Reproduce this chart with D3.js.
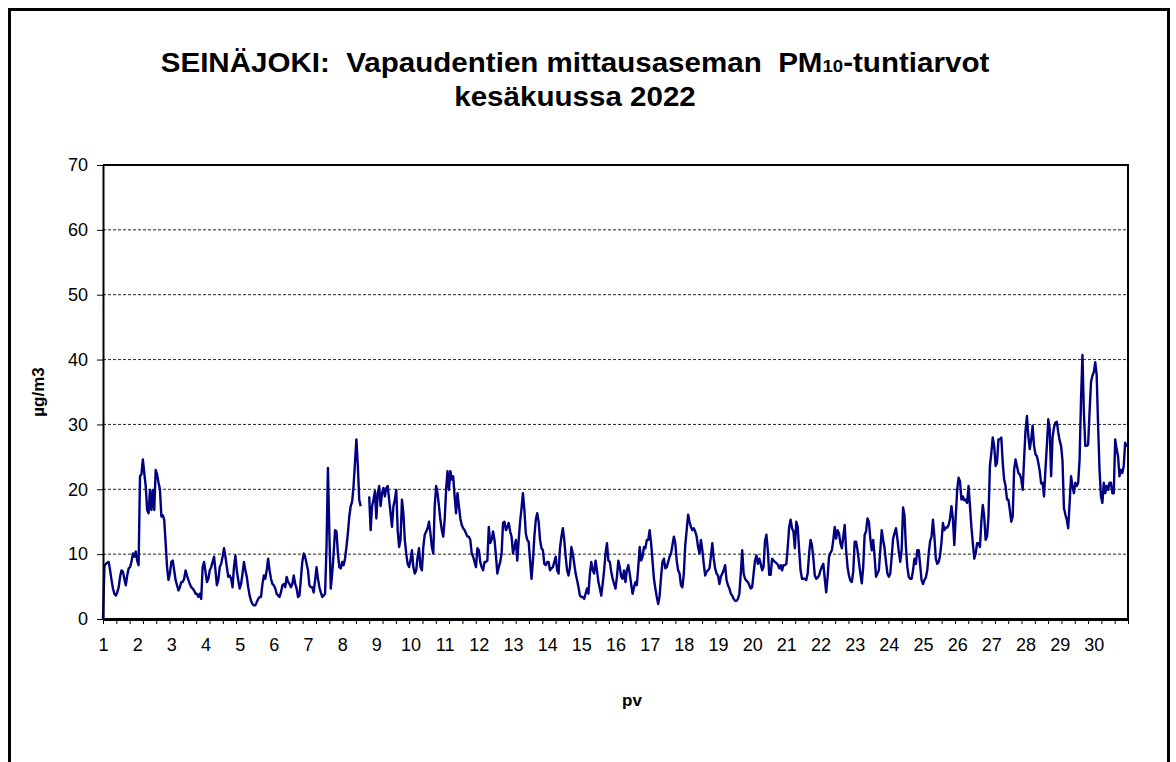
<!DOCTYPE html>
<html>
<head>
<meta charset="utf-8">
<script src="https://cdn.jsdelivr.net/npm/d3@7"></script>
<style>
  body { margin: 0; background: #fff; }
  svg text { font-family: "Liberation Sans", Arial, sans-serif; }
  .title { white-space: pre; }
</style>
</head>
<body>
<div id="chart"></div>
<script>
var width = 1176,
    height = 762;

// PM10 hourly values, one array per day of June 2022 (null = missing hour)
var day01 = [0, 8.2, 8.5, 8.7, 8.8, 7.5, 6, 4.7, 3.9, 3.6, 4.1, 4.9, 6.5, 7.5, 7.3, 6.2, 5.2, 6.7, 7.8, 8, 8.8, 10.1, 9.6, 10.4];
var day02 = [9, 8.3, 22, 22.3, 24.6, 22.5, 20.5, 16.8, 16.3, 19.9, 16.8, 19.9, 16.8, 23, 22.3, 21, 20, 15.8, 16, 15.3, 11.7, 8, 6, 7];
var day03 = [8.8, 9, 7.5, 6, 5.2, 4.4, 4.9, 5.7, 5.7, 6.2, 7.5, 6.7, 6, 5.4, 4.9, 4.7, 4.4, 3.9, 3.9, 3.4, 3.9, 3.1, 8, 8.8];
var day04 = [7.3, 5.7, 6.2, 7.5, 8, 8.8, 9.6, 7.5, 5.2, 6, 8, 8.5, 9.6, 10.9, 9.6, 8, 6.5, 6.7, 6.2, 4.9, 8, 9.8, 7.5, 6];
var day05 = [4.7, 5.4, 7, 8.8, 7.5, 6.5, 4.9, 3.6, 2.8, 2.3, 2.1, 2.1, 2.6, 3.1, 3.4, 3.4, 5.4, 6.7, 6.2, 7.5, 9.3, 7.5, 6.2, 5.4];
var day06 = [5.2, 4.7, 3.9, 3.6, 3.4, 4.1, 5.2, 5.4, 4.9, 6.5, 5.7, 5.4, 4.9, 5.4, 6.7, 5.4, 4.7, 3.4, 3.6, 6.2, 8.8, 10.1, 9.6, 8.5];
var day07 = [7.5, 5.2, 4.9, 4.9, 4.1, 6, 8, 6.2, 4.9, 4.1, 3.4, 3.6, 3.9, 11.1, 23.3, 13.2, 4.7, 7, 10.1, 13.7, 13.5, 10.1, 8, 7.8];
var day08 = [8.8, 8.3, 9.3, 11.1, 13.2, 15.8, 17.4, 18.1, 20.5, 24.1, 27.7, 23.6, 18.4, 17.4, null, null, null, null, null, 18.9, 13.7, 17.4, 18.4, 19.7];
var day09 = [15.5, 19.4, 20.5, 17.4, 19.4, 20.2, 18.9, 20.2, 20.5, 18.4, 16.3, 14.2, 17.4, 18.4, 19.9, 13.7, 11.1, 12.2, 18.4, 16.3, 12.2, 10.1, 8.5, 8];
var day10 = [9, 10.6, 8, 7, 7.5, 9.6, 10.9, 8, 7.5, 11.1, 13, 13.5, 14, 15, 13.2, 11.1, 10.1, 17.4, 20.5, 19.4, 17.4, 15.3, 13.7, 12.7];
var day11 = [15.3, 19.9, 22.8, 19.9, 22.8, 21.5, 22, 18.9, 16.3, 19.4, 17.4, 15.5, 14.5, 14, 13.7, 13.2, 12.7, 12.7, 12.2, 10.1, 9.6, 8.8, 8, 10.9];
var day12 = [10.6, 8.8, 8, 7.5, 8.8, 8.8, 9, 14.2, 11.7, 12.2, 13.5, 12.2, 9.8, 7, 8, 8.8, 10.1, 14.8, 15, 13.7, 14.2, 14.8, 13.5, 12.7];
var day13 = [10.1, 11.1, 12.2, 9, 12.2, 15, 17.1, 19.4, 16.8, 13.2, 12.2, 11.9, 9, 6.2, 9, 12.7, 15.3, 16.3, 15, 12.2, 10.9, 10.6, 8.5, 8.3];
var day14 = [8.8, 8.8, 7.5, 7.8, 8, 8.8, 9.6, 7.5, 7, 10.9, 12.7, 14, 12.2, 9.6, 7.5, 6.7, 8, 11.1, 10.1, 8.5, 7, 6, 4.9, 3.6];
var day15 = [3.4, 3.4, 3.1, 3.9, 4.7, 3.9, 7, 8.8, 7.5, 7, 9, 7.5, 5.7, 4.7, 3.6, 5.4, 7.5, 10.1, 11.7, 9, 8.8, 7.3, 6.2, 5.4];
var day16 = [4.7, 6.5, 9, 8, 6.5, 6.2, 7.5, 5.7, 7.5, 8.3, 7, 5.4, 3.9, 4.9, 5.7, 5.2, 8, 11.1, 9, 9.6, 11.1, 10.9, 12.2, 12.2];
var day17 = [13.7, 11.7, 9, 6.2, 4.7, 3.4, 2.3, 3.6, 6.5, 8.8, 9.3, 7.8, 8, 8.8, 9.6, 10.1, 11.4, 12.7, 11.7, 9, 7.5, 7, 5.2, 4.9];
var day18 = [7, 11.4, 13.7, 16.1, 15, 14.2, 13.7, 14, 13.5, 12.7, 11.1, 10.1, 12.2, 10.6, 8.5, 6.7, 7.3, 7.5, 7.8, 9.6, 11.7, 9.3, 7.8, 7];
var day19 = [6.7, 5.4, 6.5, 7, 7.5, 8.3, 6, 5.2, 4.7, 3.9, 3.6, 3.1, 2.8, 2.8, 3.1, 3.9, 7, 10.6, 7, 6.2, 5.9, 5.7, 5.2, 4.7];
var day20 = [4.9, 7, 9, 9.8, 8.5, 9.3, 8.5, 7.5, 8, 12, 13, 10.6, 6.8, 6.8, 9.3, 9, 8.8, 8.6, 8.4, 7.8, 8.3, 7.5, 8.3, 8.3];
var day21 = [8.5, 11.1, 14.2, 15.3, 14, 13.5, 10.9, 15, 14.2, 10.6, 7.5, 6.2, 6.2, 6.2, 6, 7, 10.1, 12.2, 11.4, 9.3, 6.7, 6.2, 6.4, 6.7];
var day22 = [7.5, 8.1, 8.5, 6.2, 4.1, 6.5, 9.6, 10.2, 10.6, 12.2, 14.2, 12.4, 13.7, 13.2, 11.7, 10.9, 12.7, 14.5, 10.6, 8, 6.7, 5.9, 5.7, 7.3];
var day23 = [11.9, 11.9, 10.6, 8.8, 7, 5.5, 8, 13, 13.5, 15.5, 15, 12.4, 10.6, 12.2, 9.6, 6.5, 7, 7.5, 10.6, 13.7, 12.2, 10.9, 8.8, 7];
var day24 = [6.5, 7, 9.6, 12.4, 13.2, 14, 12.4, 10.4, 8.8, 10.6, 17.2, 16, 11.1, 8, 6.5, 6.2, 6.2, 7.5, 9.3, 8.5, 10.6, 10.6, 8.3, 6];
var day25 = [5.4, 6, 6.4, 7.5, 10.1, 12, 12.7, 15.3, 12.7, 9.3, 8.5, 8.8, 9.8, 11.9, 14.8, 13.7, 14.1, 14.1, 14.5, 15.5, 17.4, 15.5, 11.4, 15.8];
var day26 = [19.9, 21.8, 21.2, 18.4, 18.9, 18.3, 18.4, 17.9, 20.5, 17.4, 14.2, 11.7, 9.3, 10.1, 11.7, 11.7, 11.1, 15, 17.6, 15.8, 12.2, 12.7, 15.8, 23.6];
var day27 = [25.6, 28, 26.7, 23.6, 24.1, 27.7, 27.7, 28, 24.1, 21.5, 20.5, 18.4, 18.4, 16.8, 15, 15.8, 23, 24.6, 23.6, 22.5, 22.3, 21.6, 19.9, 24.6];
var day28 = [29, 31.3, 28.2, 26.2, 27.7, 29.8, 26.7, 25.4, 25.1, 24.1, 22.8, 20.9, 21, 18.9, 23, 26.7, 30.8, 29.3, 22, 28, 29.5, 30.3, 30.4, 28.8];
var day29 = [27.5, 26.7, 24.4, 17.1, 16.1, 15.3, 14, 17.9, 22, 20.5, 19.4, 21, 20.5, 21, 24.6, 33.9, 40.7, 31.9, 26.7, 26.7, 26.9, 31.9, 36.5, 37.5];
var day30 = [38.1, 39.6, 37.6, 29.8, 23, 18.9, 17.9, 21, 19.4, 20.5, 19.9, 21, 21, 19.4, 19.4, 27.7, 26.2, 25.1, 22, 23, 22.5, 23.6, 27.2, 26.5];

var dayLabels = d3.range(1, 31);
var yTicks = [0, 10, 20, 30, 40, 50, 60, 70];

var pm10 = [].concat(day01, day02, day03, day04, day05, day06, day07, day08, day09, day10,
  day11, day12, day13, day14, day15, day16, day17, day18, day19, day20,
  day21, day22, day23, day24, day25, day26, day27, day28, day29, day30);

var margin = {left: 103, top: 165, right: 1128, bottom: 619};

var svg = d3.select("#chart")
  .append("svg")
  .attr("width", width)
  .attr("height", height);

// outer frame
svg.append("rect")
  .attr("x", 9.5)
  .attr("y", 9.5)
  .attr("width", 1159)
  .attr("height", 800)
  .attr("fill", "none")
  .attr("stroke", "#000")
  .attr("stroke-width", 3);

var x = d3.scaleLinear().domain([0, 720]).range([margin.left, margin.right]);
var y = d3.scaleLinear().domain([0, 70]).range([margin.bottom, margin.top]);

// dashed gridlines
svg.append("g")
  .selectAll("line")
  .data(yTicks.filter(function(d) { return d > 0 && d < 70; }))
  .enter().append("line")
  .attr("x1", margin.left)
  .attr("x2", margin.right)
  .attr("y1", function(d) { return y(d); })
  .attr("y2", function(d) { return y(d); })
  .attr("stroke", "#222")
  .attr("stroke-width", 1)
  .attr("stroke-dasharray", "3,2");

// plot border top & right
svg.append("path")
  .attr("d", "M" + margin.left + "," + y(70) + "H" + x(720) + "V" + y(0))
  .attr("fill", "none")
  .attr("stroke", "#000")
  .attr("stroke-width", 2);

// the line
var line = d3.line()
  .defined(function(d) { return d != null; })
  .x(function(d, i) { return x(i); })
  .y(function(d) { return y(d); });

svg.append("path")
  .datum(pm10)
  .attr("d", line)
  .attr("fill", "none")
  .attr("stroke", "#000080")
  .attr("stroke-width", 2.4)
  .attr("stroke-linejoin", "round");

// y axis
var yAxis = svg.append("g")
  .attr("transform", "translate(" + margin.left + ",0)")
  .call(d3.axisLeft(y).tickValues(yTicks).tickSize(6).tickPadding(9).tickSizeOuter(0));
yAxis.select(".domain").attr("stroke-width", 2);
yAxis.selectAll("text").attr("font-size", 18).attr("fill", "#000");

// x axis: minor ticks
var minorTicks = d3.range(0, 721, 720 / 77);
var xMinor = svg.append("g")
  .attr("transform", "translate(0," + margin.bottom + ")")
  .call(d3.axisBottom(x).tickValues(minorTicks).tickSize(5).tickFormat("").tickSizeOuter(0));
xMinor.select(".domain").attr("stroke-width", 3);

// x axis: day labels
var xAxis = svg.append("g")
  .attr("transform", "translate(0," + margin.bottom + ")")
  .call(d3.axisBottom(x)
    .tickValues(dayLabels.map(function(d) { return (d - 1) * 24; }))
    .tickFormat(function(d) { return d / 24 + 1; })
    .tickSize(0).tickPadding(19));
xAxis.select(".domain").remove();
xAxis.selectAll("text").attr("font-size", 18).attr("fill", "#000");

// title (slightly stretched horizontally like the original)
var titleG = svg.append("g")
  .attr("transform", "translate(575,0) scale(1.095,1)");

var title = titleG.append("text")
  .attr("class", "title")
  .attr("x", 0)
  .attr("y", 72)
  .attr("text-anchor", "middle")
  .attr("font-size", 27)
  .attr("font-weight", "bold");
title.append("tspan").text("SEINÄJOKI:  Vapaudentien mittausaseman  PM");
title.append("tspan").attr("font-size", 17).text("10");
title.append("tspan").text("-tuntiarvot");

titleG.append("text")
  .attr("x", 0)
  .attr("y", 106)
  .attr("text-anchor", "middle")
  .attr("font-size", 27)
  .attr("font-weight", "bold")
  .text("kesäkuussa 2022");

// axis titles
svg.append("text")
  .attr("transform", "translate(44,392) rotate(-90)")
  .attr("text-anchor", "middle")
  .attr("font-size", 17)
  .attr("font-weight", "bold")
  .text("µg/m3");

svg.append("text")
  .attr("x", 632)
  .attr("y", 706)
  .attr("text-anchor", "middle")
  .attr("font-size", 17)
  .attr("font-weight", "bold")
  .text("pv");
</script>
</body>
</html>
